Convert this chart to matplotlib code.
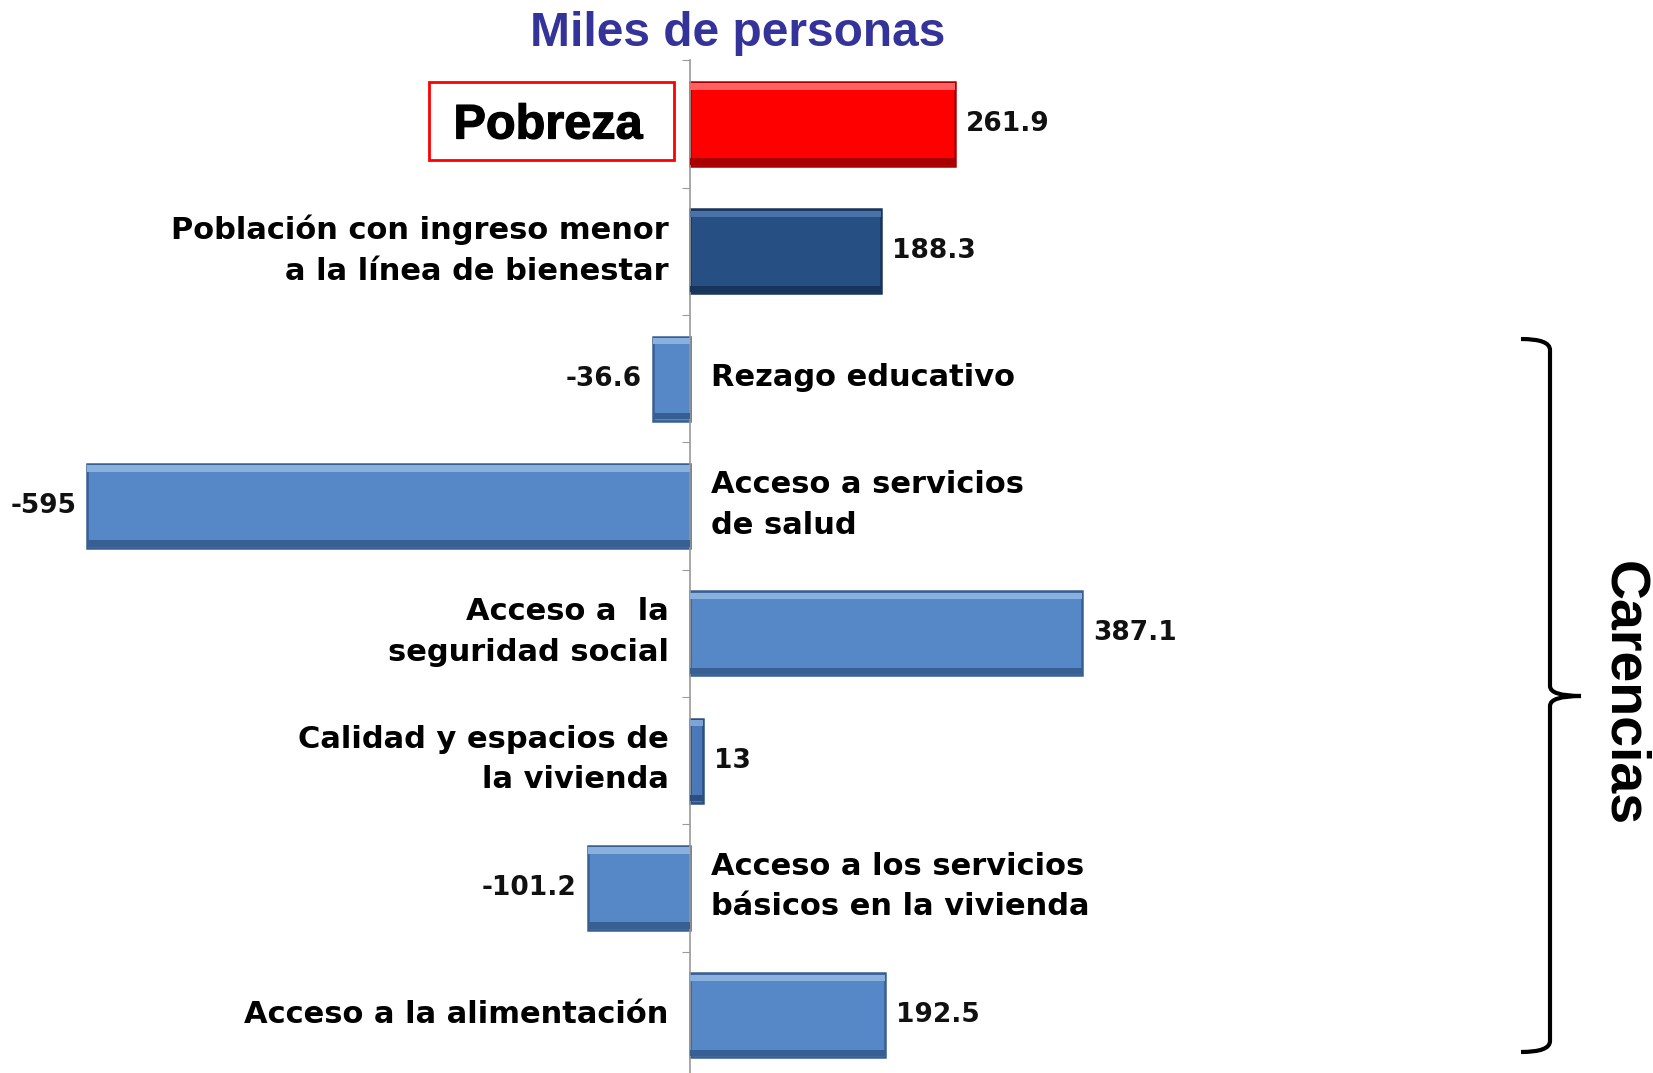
import matplotlib
matplotlib.use("Agg")
import matplotlib.pyplot as plt
import matplotlib.patheffects as pe
import numpy as np
from matplotlib.path import Path
from matplotlib.patches import PathPatch, Rectangle

categories = [
    "Pobreza",
    "Población con ingreso menor\na la línea de bienestar",
    "Rezago educativo",
    "Acceso a servicios\nde salud",
    "Acceso a  la\nseguridad social",
    "Calidad y espacios de\nla vivienda",
    "Acceso a los servicios\nbásicos en la vivienda",
    "Acceso a la alimentación",
]
values = [261.9, 188.3, -36.6, -595, 387.1, 13, -101.2, 192.5]
value_labels = ["261.9", "188.3", "-36.6", "-595", "387.1", "13", "-101.2", "192.5"]
bar_colors = ["#FF0000", "#264F84", "#5688C8", "#5688C8", "#5688C8", "#4A78B8", "#5688C8", "#5688C8"]
edge_colors = ["#A80000", "#17345A", "#385F92", "#385F92", "#385F92", "#2C4F80", "#385F92", "#385F92"]
top_colors = ["#FF6060", "#4A72A6", "#8AB0DE", "#8AB0DE", "#8AB0DE", "#7FA4D4", "#8AB0DE", "#8AB0DE"]

W, H = 1653, 1073
LABEL_FONT = "DejaVu Sans"

def fx(x):
    return x / W

def fy(y):
    return 1 - y / H

fig = plt.figure(figsize=(W / 100, H / 100), dpi=100)
ax = fig.add_axes([0, fy(1079), 1, (1079 - 60.4) / H])

y = np.arange(len(values))
bar_h = 0.66
ax.barh(y, values, height=bar_h, color=bar_colors, edgecolor=edge_colors, linewidth=1.8, zorder=2)
# light strip on top / dark strip at bottom to hint the bevel
ax.barh(y - bar_h / 2 + 0.035, values, height=0.05, color=top_colors, linewidth=0, zorder=3)
ax.barh(y + bar_h / 2 - 0.035, values, height=0.05, color=edge_colors, linewidth=0, zorder=3)

ax.set_xlim(-681.4, 951.0)
ax.set_ylim(len(values) - 0.5, -0.5)

for s in ["top", "right", "bottom"]:
    ax.spines[s].set_visible(False)
ax.spines["left"].set_position(("data", 0))
ax.spines["left"].set_color("#9A9A9A")
ax.spines["left"].set_linewidth(1.2)
ax.set_yticks(np.arange(len(values) + 1) - 0.5)
ax.set_yticklabels([])
ax.tick_params(axis="y", length=6, color="#9A9A9A", direction="out")
ax.set_xticks([])
ax.patch.set_alpha(0)

for i, (cat, v, lab) in enumerate(zip(categories, values, value_labels)):
    sign = 1 if v >= 0 else -1
    ax.text(v + sign * 11, i, lab, ha="left" if v >= 0 else "right", va="center",
            fontsize=19, fontweight="bold", family=LABEL_FONT, color="#111111", zorder=4)
    if i == 0:
        continue
    ax.text(-21 * sign, i - 0.01, cat, ha="right" if v >= 0 else "left", va="center",
            fontsize=22, fontweight="bold", family=LABEL_FONT, color="black",
            linespacing=1.5, zorder=4)

# boxed "Pobreza" label
fig.patches.append(Rectangle((fx(429), fy(160)), fx(674) - fx(429), fy(82) - fy(160),
                             transform=fig.transFigure, fill=False, edgecolor="#FF0000",
                             linewidth=2))
fig.text(fx(548), fy(126), categories[0], ha="center", va="center", fontsize=35,
         fontweight="bold", family="Liberation Sans", color="black",
         path_effects=[pe.withStroke(linewidth=0.9, foreground="black")])

fig.text(fx(738), fy(33), "Miles de personas", ha="center", va="center", fontsize=34.5,
         fontweight="bold", family="Liberation Sans", color="#343399")

# bracket for "Carencias"
pts = [
    (1521, 339), (1550, 339), (1550, 350),
    (1550, 686),
    (1550, 696), (1581, 696),
    (1550, 696), (1550, 706),
    (1550, 1041),
    (1550, 1052), (1521, 1052),
]
codes = [Path.MOVETO, Path.CURVE3, Path.CURVE3, Path.LINETO, Path.CURVE3, Path.CURVE3,
         Path.CURVE3, Path.CURVE3, Path.LINETO, Path.CURVE3, Path.CURVE3]
verts = [(fx(px), fy(py)) for px, py in pts]
fig.patches.append(PathPatch(Path(verts, codes), transform=fig.transFigure, fill=False,
                             edgecolor="black", linewidth=3, capstyle="butt"))
fig.text(fx(1623), fy(694), "Carencias", rotation=-90, ha="center", va="center", fontsize=40,
         fontweight="bold", family=["Liberation Sans Narrow", "Liberation Sans"], color="black")

fig.savefig("out.png", dpi=100)
